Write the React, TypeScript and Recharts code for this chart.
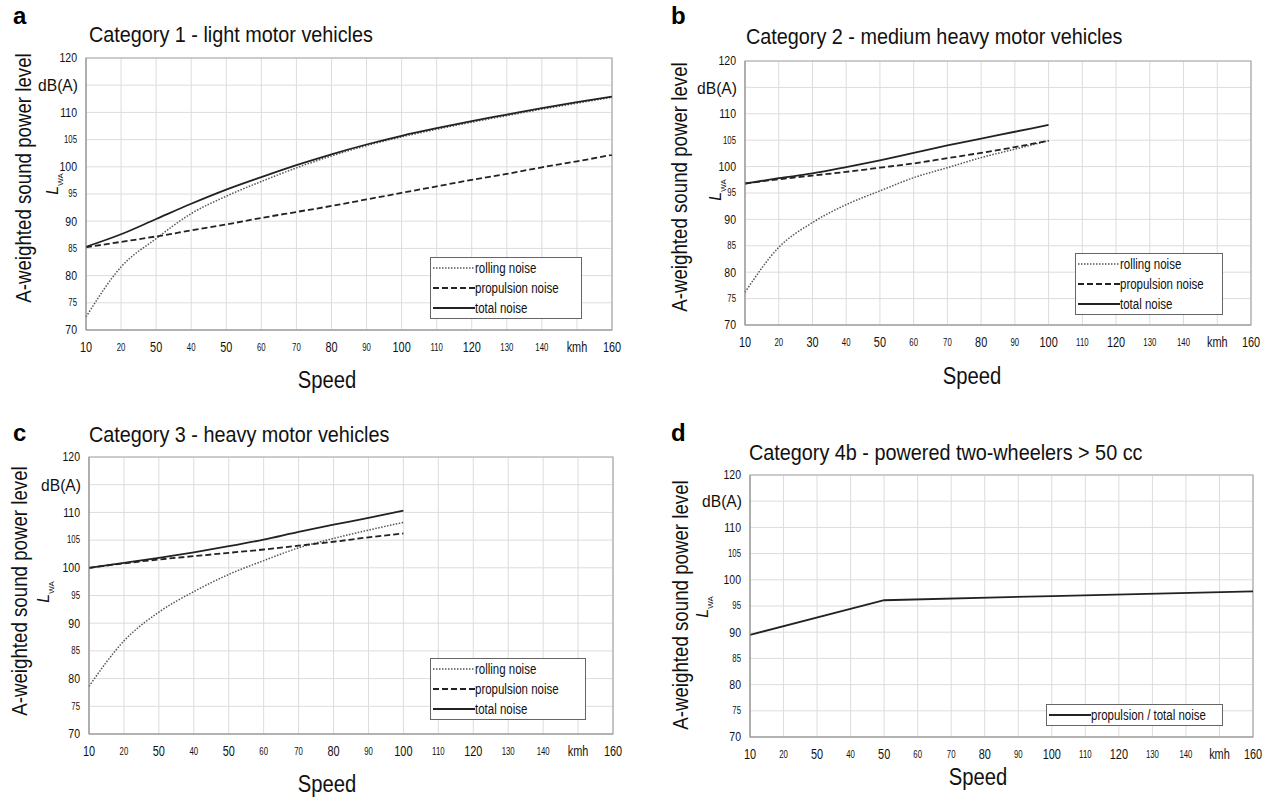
import React from 'react'
import {
  CartesianGrid,
  Legend,
  Line,
  LineChart,
  ReferenceArea,
  XAxis,
  YAxis,
} from 'recharts'

// speed axis (km/h) and its printed labels
const speedTicks = [10, 20, 30, 40, 50, 60, 70, 80, 90, 100, 110, 120, 130, 140, 150, 160]
const speedLabelsPrinted = ['10', '20', '50', '40', '50', '60', '70', '80', '90', '100', '110', '120', '130', '140', 'kmh', '160']
const speedLabelsB = ['10', '20', '30', '40', '50', '60', '70', '80', '90', '100', '110', '120', '130', '140', 'kmh', '160']
const smallSpeedTicks = [20, 40, 60, 70, 90, 110, 130, 140]

const levelTicks = [70, 75, 80, 85, 90, 95, 100, 105, 110, 115, 120]
const smallLevelTicks = [75, 85, 95, 105]

// a - light motor vehicles
const speedA = [10, 20, 30, 40, 50, 60, 70, 80, 90, 100, 110, 120, 130, 140, 150, 160]
const rollingA = [72.4, 81.6, 86.8, 91.4, 94.6, 97.3, 99.8, 102, 103.9, 105.5, 106.9, 108.2, 109.4, 110.6, 111.7, 112.8]
const propulsionA = [85.2, 86.2, 87.2, 88.3, 89.4, 90.6, 91.7, 92.8, 94, 95.2, 96.4, 97.6, 98.7, 99.9, 101, 102.2]
const totalA = [85.3, 87.6, 90.4, 93.2, 95.8, 98.1, 100.3, 102.3, 104.1, 105.7, 107.1, 108.4, 109.6, 110.8, 111.9, 112.9]

// b - medium heavy motor vehicles
const speedB = [10, 20, 30, 40, 50, 60, 70, 80, 90, 100]
const rollingB = [76.2, 84.7, 89.4, 92.8, 95.4, 97.9, 99.8, 101.7, 103.3, 104.9]
const propulsionB = [96.8, 97.6, 98.3, 99, 99.8, 100.6, 101.6, 102.6, 103.7, 104.9]
const totalB = [96.8, 97.8, 98.7, 99.9, 101.2, 102.6, 104, 105.3, 106.6, 107.9]

// c - heavy motor vehicles
const speedC = [10, 20, 30, 40, 50, 60, 70, 80, 90, 100]
const rollingC = [78.6, 86.8, 92, 95.7, 98.8, 101.3, 103.6, 105.3, 106.8, 108.2]
const propulsionC = [100, 100.8, 101.5, 102.1, 102.7, 103.3, 104, 104.7, 105.5, 106.2]
const totalC = [100, 100.9, 101.8, 102.8, 103.9, 105.1, 106.5, 107.8, 109, 110.3]

// d - powered two-wheelers > 50 cc
const speedD = [10, 50, 100, 160]
const totalD = [89.5, 96.1, 96.9, 97.8]

const FONT = "'Liberation Sans', Arial, sans-serif"
const INK = '#111'

type SeriesKey = 'rolling' | 'propulsion' | 'total'

const seriesStyle: Record<SeriesKey, { stroke: string; width: number; dash?: string }> = {
  rolling: { stroke: '#555', width: 1.5, dash: '1.5 1.5' },
  propulsion: { stroke: '#222', width: 1.8, dash: '6 3' },
  total: { stroke: '#222', width: 1.8 },
}

function buildRows(speed: number[], cols: Partial<Record<SeriesKey, number[]>>) {
  return speed.map((s, i) => {
    const row: Record<string, number> = { speed: s }
    for (const k of Object.keys(cols) as SeriesKey[]) row[k] = cols[k]![i]
    return row
  })
}

function SpeedTick(props: any) {
  const { x, y, payload, labels } = props
  const idx = speedTicks.indexOf(payload.value)
  const small = smallSpeedTicks.includes(payload.value)
  return (
    <g transform={`translate(${x},${y + 18})`}>
      <text transform="scale(0.78,1)" textAnchor="middle" dominantBaseline="central"
        fontFamily={FONT} fontSize={small ? 10 : 14} fill={INK}>
        {labels[idx]}
      </text>
    </g>
  )
}

function LevelTick(props: any) {
  const { x, y, payload } = props
  if (payload.value === 115) {
    return (
      <g transform={`translate(${x - 8},${y})`}>
        <text transform="scale(0.92,1)" textAnchor="end" dominantBaseline="central"
          fontFamily={FONT} fontSize={17} fill={INK}>dB(A)</text>
      </g>
    )
  }
  const small = smallLevelTicks.includes(payload.value)
  return (
    <g transform={`translate(${x - 9},${y})`}>
      <text transform="scale(0.78,1)" textAnchor="end" dominantBaseline="central"
        fontFamily={FONT} fontSize={small ? 10 : 13.5} fill={INK}>
        {payload.value}
      </text>
    </g>
  )
}

function LegendBox({ items, width }: { items: { key: SeriesKey; label: string }[]; width: number }) {
  return (
    <div style={{ width, boxSizing: 'border-box', border: '1.5px solid #666', background: '#fff', padding: '0 2px' }}>
      {items.map((it) => {
        const st = seriesStyle[it.key]
        return (
          <div key={it.key} style={{ display: 'flex', alignItems: 'center', height: 20, overflow: 'visible' }}>
            <svg width={42} height={10} style={{ flex: 'none' }}>
              <line x1={0} y1={5} x2={42} y2={5} stroke={st.stroke} strokeWidth={st.width}
                strokeDasharray={st.dash} />
            </svg>
            <span style={{ fontFamily: FONT, fontSize: 14, color: INK, whiteSpace: 'nowrap',
              display: 'inline-block', transform: 'scaleX(0.82)', transformOrigin: 'left center' }}>
              {it.label}
            </span>
          </div>
        )
      })}
    </div>
  )
}

interface PanelProps {
  x: number
  y: number
  w: number
  h: number
  plot: { left: number; top: number; right: number; bottom: number }
  letter: string
  letterPos: [number, number]
  title: string
  titlePos: [number, number]
  labels: string[]
  rows: Record<string, number>[]
  series: { key: SeriesKey; label: string }[]
  curve: 'monotone' | 'linear'
  legendPos: { left: number; top: number; width: number }
  yTitlePos: [number, number]
  lwaPos: [number, number]
  speedPos: [number, number]
}

function Panel(p: PanelProps) {
  const yAxisW = 40
  const xAxisH = 30
  const margin = {
    top: p.plot.top,
    right: p.w - p.plot.right,
    bottom: p.h - p.plot.bottom - xAxisH,
    left: p.plot.left - yAxisW,
  }
  return (
    <div style={{ position: 'absolute', left: p.x, top: p.y, width: p.w, height: p.h }}>
      <LineChart width={p.w} height={p.h} data={p.rows} margin={margin}>
        <CartesianGrid stroke="#dcdcdc" strokeWidth={1} />
        <XAxis dataKey="speed" type="number" domain={[10, 160]} ticks={speedTicks}
          interval={0} height={xAxisH} tickSize={0} tickMargin={0}
          axisLine={{ stroke: '#999' }} tickLine={false}
          tick={<SpeedTick labels={p.labels} />} />
        <YAxis type="number" domain={[70, 120]} ticks={levelTicks} interval={0}
          width={yAxisW} tickSize={0} tickMargin={0}
          axisLine={{ stroke: '#999' }} tickLine={false} tick={<LevelTick />} />
        <ReferenceArea x1={10} x2={160} y1={70} y2={120} fill="none" stroke="#aaa" strokeWidth={1.2} />
        {p.series.map((s) => (
          <Line key={s.key} type={p.curve} dataKey={s.key} name={s.label}
            stroke={seriesStyle[s.key].stroke} strokeWidth={seriesStyle[s.key].width}
            strokeDasharray={seriesStyle[s.key].dash} dot={false} isAnimationActive={false} />
        ))}
        <Legend layout="vertical" align="center" verticalAlign="middle"
          wrapperStyle={{ left: p.legendPos.left, top: p.legendPos.top, width: p.legendPos.width, bottom: 'auto' }}
          content={() => <LegendBox items={p.series} width={p.legendPos.width} />} />
      </LineChart>
      <div style={{ position: 'absolute', left: p.letterPos[0], top: p.letterPos[1], transform: 'translateY(-50%)',
        fontFamily: FONT, fontWeight: 'bold', fontSize: 24, color: '#000', lineHeight: 1 }}>
        {p.letter}
      </div>
      <div style={{ position: 'absolute', left: p.titlePos[0], top: p.titlePos[1], transform: 'translateY(-50%) scaleX(0.9)',
        transformOrigin: 'left center', fontFamily: FONT, fontSize: 22, color: INK, whiteSpace: 'nowrap', lineHeight: 1 }}>
        {p.title}
      </div>
      <div style={{ position: 'absolute', left: p.yTitlePos[0], top: p.yTitlePos[1],
        transform: 'translate(-50%, -50%) rotate(-90deg) scaleX(0.85)',
        fontFamily: FONT, fontSize: 22, color: INK, whiteSpace: 'nowrap', lineHeight: 1 }}>
        A-weighted sound power level
      </div>
      <div style={{ position: 'absolute', left: p.lwaPos[0], top: p.lwaPos[1], transform: 'translate(-50%, -50%) rotate(-90deg)',
        fontFamily: FONT, fontSize: 16, color: INK, whiteSpace: 'nowrap', lineHeight: 1 }}>
        <span style={{ fontStyle: 'italic' }}>L</span>
        <sub style={{ fontSize: 8 }}>WA</sub>
      </div>
      <div style={{ position: 'absolute', left: p.speedPos[0], top: p.speedPos[1], transform: 'translate(-50%, -50%) scaleX(0.88)',
        fontFamily: FONT, fontSize: 23, color: INK, lineHeight: 1 }}>
        Speed
      </div>
    </div>
  )
}

const mainSeries: { key: SeriesKey; label: string }[] = [
  { key: 'rolling', label: 'rolling noise' },
  { key: 'propulsion', label: 'propulsion noise' },
  { key: 'total', label: 'total noise' },
]

export default function App() {
  const rowsA = buildRows(speedA, { rolling: rollingA, propulsion: propulsionA, total: totalA })
  const rowsB = buildRows(speedB, { rolling: rollingB, propulsion: propulsionB, total: totalB })
  const rowsC = buildRows(speedC, { rolling: rollingC, propulsion: propulsionC, total: totalC })
  const rowsD = buildRows(speedD, { total: totalD })

  return (
    <div style={{ position: 'absolute', left: 0, top: 0, width: 1270, height: 799, background: '#fff', overflow: 'hidden' }}>
      <Panel x={0} y={0} w={640} h={400}
        plot={{ left: 86, top: 58, right: 612, bottom: 330 }}
        letter="a" letterPos={[13, 16]}
        title="Category 1 - light motor vehicles" titlePos={[89, 35]}
        labels={speedLabelsPrinted} rows={rowsA} series={mainSeries} curve="monotone"
        legendPos={{ left: 430, top: 257, width: 152 }}
        yTitlePos={[24, 178]} lwaPos={[55, 184]} speedPos={[327, 380]} />
      <Panel x={630} y={0} w={640} h={400}
        plot={{ left: 115, top: 61, right: 621, bottom: 325 }}
        letter="b" letterPos={[41, 16]}
        title="Category 2 - medium heavy motor vehicles" titlePos={[116, 37]}
        labels={speedLabelsB} rows={rowsB} series={mainSeries} curve="monotone"
        legendPos={{ left: 445, top: 253, width: 148 }}
        yTitlePos={[50, 187]} lwaPos={[88, 190]} speedPos={[342, 376]} />
      <Panel x={0} y={400} w={640} h={399}
        plot={{ left: 89, top: 57, right: 613, bottom: 334 }}
        letter="c" letterPos={[13, 33]}
        title="Category 3 - heavy motor vehicles" titlePos={[89, 35]}
        labels={speedLabelsPrinted} rows={rowsC} series={mainSeries} curve="monotone"
        legendPos={{ left: 430, top: 258, width: 156 }}
        yTitlePos={[20, 191]} lwaPos={[46, 192]} speedPos={[327, 384]} />
      <Panel x={630} y={400} w={640} h={399}
        plot={{ left: 120, top: 75, right: 623, bottom: 337 }}
        letter="d" letterPos={[41, 33]}
        title="Category 4b - powered two-wheelers > 50 cc" titlePos={[119, 53]}
        labels={speedLabelsPrinted} rows={rowsD} curve="linear"
        series={[{ key: 'total', label: 'propulsion / total noise' }]}
        legendPos={{ left: 416, top: 304, width: 177 }}
        yTitlePos={[51, 205]} lwaPos={[75, 207]} speedPos={[348, 377]} />
    </div>
  )
}
